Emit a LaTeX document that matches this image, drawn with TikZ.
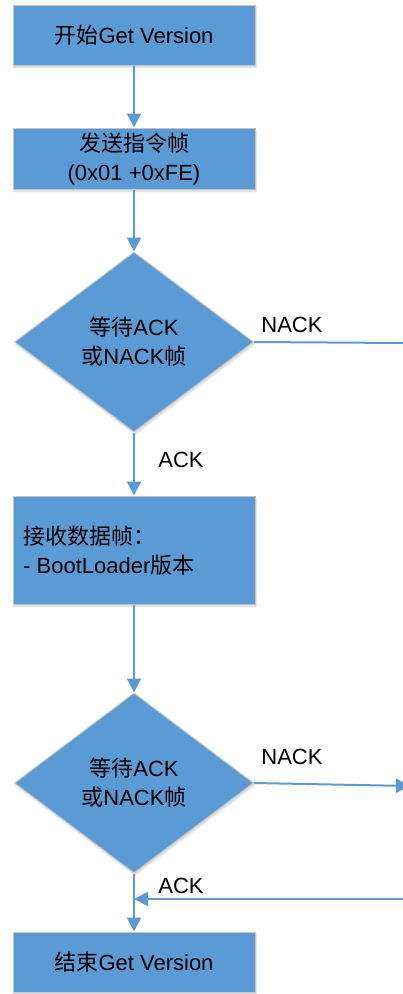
\documentclass[tikz,border=0pt]{standalone}
\usepackage{fontspec}
\setmainfont{Liberation Sans}
\newfontfamily\cjk{Noto Sans CJK SC}
\usetikzlibrary{arrows.meta,shapes.geometric,shadows.blur}
\definecolor{flowblue}{HTML}{5B9BD5}
\definecolor{edgegray}{HTML}{C3C3C3}
\tikzset{
  base/.style={fill=flowblue, draw=edgegray, line width=1pt, inner sep=0pt,
    font=\fontsize{22}{29}\selectfont, text=black,
    blur shadow={shadow xshift=1pt, shadow yshift=-2pt, shadow blur steps=6, shadow opacity=18}},
  stepbox/.style={base, rectangle, minimum width=242pt, align=center},
  decision/.style={base, diamond, minimum width=239pt, minimum height=180pt,
    aspect=1.33, align=center},
  flow/.style={draw=flowblue, line width=2pt, -{Triangle[width=14pt,length=14pt]}},
  plain/.style={draw=flowblue, line width=2pt},
  lbl/.style={font=\fontsize{22}{26}\selectfont, text=black, inner sep=0pt}
}
\begin{document}
\begin{tikzpicture}[x=1pt,y=-1pt]
\useasboundingbox (0,0) rectangle (403,994);

% process steps
\node[stepbox, minimum height=60pt] (start) at (134,35) {{\cjk 开始}Get Version};
\node[stepbox, minimum height=61pt] (send) at (134,158.5) {{\cjk 发送指令帧}\\(0x01 +0xFE)};
\node[decision] (wait1) at (134,342) {{\cjk 等待}ACK\\{\cjk 或}NACK{\cjk 帧}};
\node[stepbox, minimum height=108pt] (recv) at (134,550) {};
\node[lbl, anchor=west, align=left, font=\fontsize{22}{29}\selectfont] (recvtext) at (23,551)
  {{\cjk 接收数据帧：}\\- BootLoader{\cjk 版本}};
\node[decision] (wait2) at (134,783) {{\cjk 等待}ACK\\{\cjk 或}NACK{\cjk 帧}};
\node[stepbox, minimum height=60pt] (finish) at (134,962) {{\cjk 结束}Get Version};

% loose ends at the right margin
\coordinate (nack1end) at (403,343);
\coordinate (nack2end) at (410,786);
\coordinate (ackin) at (403,899);
\coordinate (join) at (134,899);

% connectors
\draw[flow] (start.south) -- (send.north);
\draw[flow] (send.south) -- (wait1.north);
\draw[plain] (wait1.east) -- (nack1end);
\draw[flow] (wait1.south) -- (recv.north);
\draw[flow] (recv.south) -- (wait2.north);
\draw[flow] (wait2.east) -- (nack2end);
\draw[flow] (wait2.south) -- (finish.north);
\draw[flow] (ackin) -- (join);

% edge labels
\node[lbl] (nack1) at (292,325) {NACK};
\node[lbl] (ack1) at (181,460) {ACK};
\node[lbl] (nack2) at (292,757) {NACK};
\node[lbl] (ack2) at (181,886) {ACK};
\end{tikzpicture}
\end{document}
